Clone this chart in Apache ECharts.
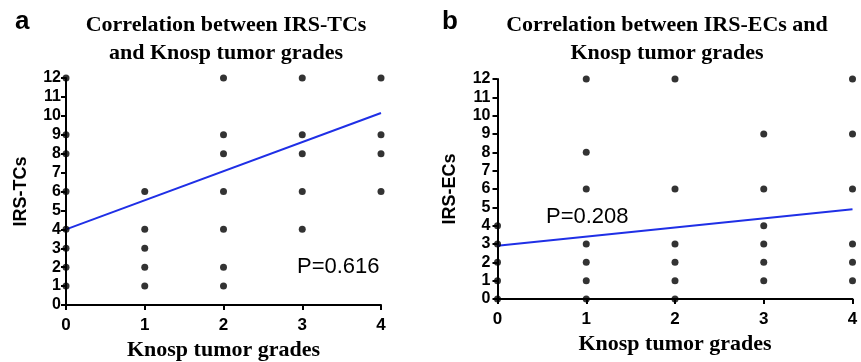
<!DOCTYPE html>
<html>
<head>
<meta charset="utf-8">
<script src="https://cdn.jsdelivr.net/npm/echarts@6/dist/echarts.min.js"></script>
<style>
html,body{margin:0;padding:0;background:#fff;}
#chart{width:861px;height:362px;}
</style>
</head>
<body>
<div id="chart"></div>
<script>
// Panel a: IRS-TCs vs Knosp grade
var tcGrades = [0,0,0,0,0,0,0,0, 1,1,1,1,1, 2,2,2,2,2,2,2, 3,3,3,3,3, 4,4,4,4];
var tcScores = [12,9,8,6,4,3,2,1, 6,4,3,2,1, 12,9,8,6,4,2,1, 12,9,8,6,4, 12,9,8,6];
var tcFitX = [0, 4];
var tcFitY = [4.0, 10.15];
var tcP = 'P=0.616';

// Panel b: IRS-ECs vs Knosp grade
var ecGrades = [0,0,0,0,0, 1,1,1,1,1,1,1, 2,2,2,2,2,2, 3,3,3,3,3,3, 4,4,4,4,4,4];
var ecScores = [4,3,2,1,0, 12,8,6,3,2,1,0, 12,6,3,2,1,0, 9,6,4,3,2,1, 12,9,6,3,2,1];
var ecFitX = [0, 4];
var ecFitY = [2.9, 4.9];
var ecP = 'P=0.208';

var xTicks = [0,1,2,3,4];
var yTicks = [0,1,2,3,4,5,6,7,8,9,10,11,12];

function zip(a,b){return a.map(function(v,i){return [v,b[i]];});}

var chart = echarts.init(document.getElementById('chart'));
function xAxis(gi){
  return {gridIndex:gi, type:'value', min:0, max:4, interval:1,
    name:'Knosp tumor grades', nameLocation:'middle', nameGap: gi===0?32:31,
    nameTextStyle:{fontFamily:'Liberation Serif', fontWeight:'bold', fontSize:22, color:'#000'},
    axisLine:{lineStyle:{color:'#000', width:2}},
    axisTick:{show:true, length:5, lineStyle:{color:'#000', width:2}},
    axisLabel:{fontFamily:'Liberation Sans', fontWeight:'bold', fontSize:17, color:'#000', margin:12,
      formatter:function(v){return xTicks.indexOf(v)>=0?String(v):'';}},
    splitLine:{show:false}};
}
function yAxis(gi,name){
  return {gridIndex:gi, type:'value', min:0, max:12, interval:1,
    name:name, nameLocation:'middle', nameGap:gi===0?36:38, nameRotate:90,
    nameTextStyle:{fontFamily:'Liberation Sans', fontWeight:'bold', fontSize:18, color:'#000'},
    axisLine:{show:true, lineStyle:{color:'#000', width:2}},
    axisTick:{show:true, length:5, lineStyle:{color:'#000', width:2}},
    axisLabel:{fontFamily:'Liberation Sans', fontWeight:'bold', fontSize:16, color:'#000', margin:gi===0?5:7,
      formatter:function(v){return yTicks.indexOf(v)>=0?String(v):'';}},
    splitLine:{show:false}};
}

chart.setOption({
  animation:false,
  backgroundColor:'#fff',
  title:[
    {text:'Correlation between IRS-TCs\nand Knosp tumor grades', left:221, top:6, textAlign:'center',
     textStyle:{fontFamily:'Liberation Serif', fontWeight:'bold', fontSize:22, lineHeight:28, color:'#000'}},
    {text:'Correlation between IRS-ECs and\nKnosp tumor grades', left:662, top:6, textAlign:'center',
     textStyle:{fontFamily:'Liberation Serif', fontWeight:'bold', fontSize:22, lineHeight:28, color:'#000'}},
    {text:'a', left:10, top:4, textStyle:{fontFamily:'Liberation Sans', fontWeight:'bold', fontSize:26, color:'#000'}},
    {text:'b', left:437, top:4, textStyle:{fontFamily:'Liberation Sans', fontWeight:'bold', fontSize:26, color:'#000'}}
  ],
  grid:[
    {left:66, top:78, width:315, height:227, outerBoundsMode:'none', containLabel:false},
    {left:497.5, top:79, width:355, height:220, outerBoundsMode:'none', containLabel:false}
  ],
  xAxis:[xAxis(0), xAxis(1)],
  yAxis:[yAxis(0,'IRS-TCs'), yAxis(1,'IRS-ECs')],
  graphic:[
    {type:'text', left:297, top:256, style:{text:tcP, fontFamily:'Liberation Sans', fontSize:22, fill:'#000'}},
    {type:'text', left:546, top:206, style:{text:ecP, fontFamily:'Liberation Sans', fontSize:22, fill:'#000'}}
  ],
  series:[
    {type:'line', xAxisIndex:0, yAxisIndex:0, data:zip(tcFitX,tcFitY), symbol:'none',
     lineStyle:{color:'#1f2fe6', width:2}, z:3},
    {type:'scatter', xAxisIndex:0, yAxisIndex:0, data:zip(tcGrades,tcScores), symbolSize:7,
     itemStyle:{color:'#000'}, clip:false, z:4},
    {type:'line', xAxisIndex:1, yAxisIndex:1, data:zip(ecFitX,ecFitY), symbol:'none',
     lineStyle:{color:'#1f2fe6', width:2}, z:3},
    {type:'scatter', xAxisIndex:1, yAxisIndex:1, data:zip(ecGrades,ecScores), symbolSize:7,
     itemStyle:{color:'#000'}, clip:false, z:4}
  ]
});
</script>
</body>
</html>
